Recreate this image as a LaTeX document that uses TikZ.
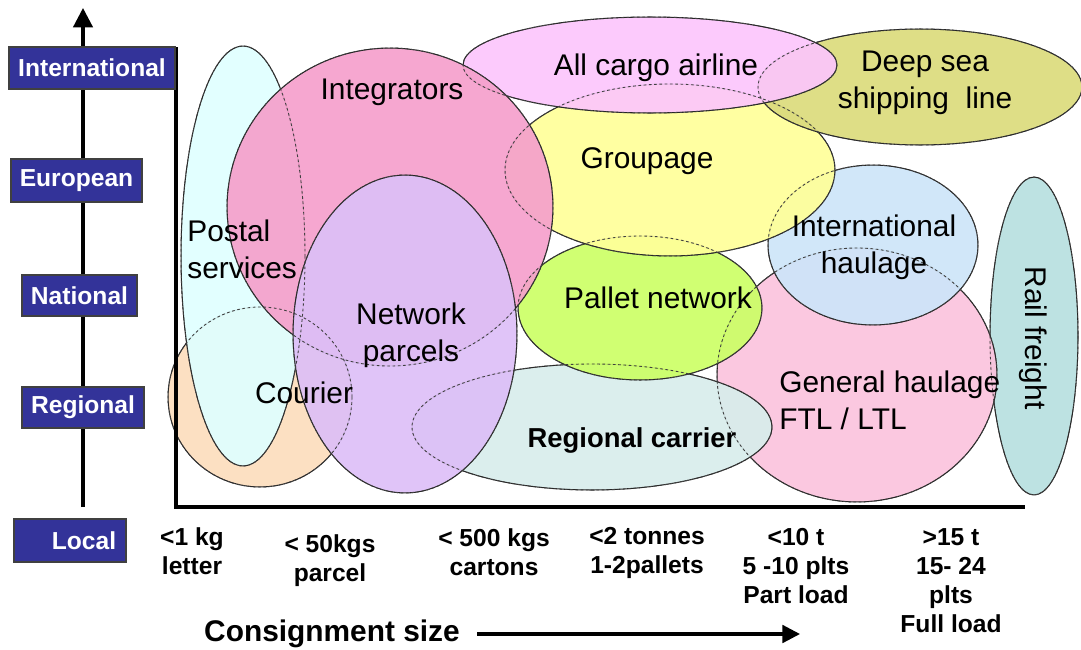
\documentclass[tikz,border=0pt]{standalone}
\usepackage{fontspec}
\setmainfont{Liberation Sans}
\usetikzlibrary{shapes.geometric,arrows.meta}
\definecolor{boxblue}{RGB}{51,51,153}
\definecolor{cRail}{HTML}{B7DFDF}
\definecolor{cGen}{HTML}{FBC3DD}
\definecolor{cIntH}{HTML}{CDE5F9}
\definecolor{cReg}{HTML}{D8EDEC}
\definecolor{cPal}{HTML}{CCFF66}
\definecolor{cGrp}{HTML}{FFFF99}
\definecolor{cSea}{HTML}{DBDB7C}
\definecolor{cAir}{HTML}{FCC6FC}
\definecolor{cCou}{HTML}{FCDDBD}
\definecolor{cPos}{HTML}{DFFFFF}
\definecolor{cInt}{HTML}{F5A0CC}
\definecolor{cNet}{HTML}{DDBFF7}
\tikzset{
  blob/.style n args={3}{ellipse, draw=black!85, line width=0.6pt, fill=#1, fill opacity=0.92,
     minimum width=#2*0.04cm, minimum height=#3*0.04cm, inner sep=0pt},
  hidden/.style={draw=black!75, line width=0.5pt, dash pattern=on 1.5pt off 1.5pt},
  lvl/.style={draw=black!75, line width=0.6pt, fill=boxblue, text=white, inner sep=0pt,
     font=\fontsize{14}{16}\selectfont\bfseries},
  lab/.style={font=\fontsize{17}{21}\selectfont, align=center, inner sep=0pt},
  sizelab/.style={font=\fontsize{14}{16.5}\selectfont\bfseries, align=center, inner sep=0pt, anchor=north},
}
\begin{document}
\begin{tikzpicture}[x=0.02cm, y=-0.02cm]
\useasboundingbox (0,0) rectangle (1081,649);
% vertical level axis
\coordinate (axbot) at (83,507);
\coordinate (axtop) at (83,8);
\draw[line width=1.8pt, -{Triangle[width=11pt,length=11pt]}] (axbot) -- (axtop);
% chart frame
\coordinate (fTop) at (176,47);
\coordinate (fCorner) at (176,507);
\coordinate (fRight) at (1025,507);
% ellipses (drawing order bottom to top)
\node[blob={cRail}{44}{159}] (rail) at (1034,336) {};
\node[blob={cGen}{140}{127}] (gen) at (857,375) {};
\node[blob={cIntH}{105}{80}] (inth) at (873,245) {};
\node[blob={cReg}{180}{63}] (reg) at (592,427) {};
\node[blob={cPal}{122}{72}] (pal) at (640,308) {};
\node[blob={cGrp}{165}{86}] (grp) at (670,170) {};
\node[blob={cSea}{162}{58}] (sea) at (920,87) {};
\node[blob={cAir}{187}{48}] (air) at (650,65) {};
\node[blob={cCou}{92}{90}] (cou) at (260,397) {};
\node[blob={cPos}{62}{210}] (pos) at (243,256) {};
\node[blob={cInt}{163}{159}] (integ) at (390,207) {};
\node[blob={cNet}{112}{159}] (net) at (405,334) {};
% hidden outlines show through as dotted lines
\foreach \e/\rx/\ry in {rail/44/159, gen/140/127, inth/105/80, reg/180/63, pal/122/72,
    grp/165/86, sea/162/58, air/187/48, cou/92/90, pos/62/210, integ/163/159, net/112/159}
  \draw[hidden] (\e.center) ellipse [x radius=\rx, y radius=\ry];
\draw[line width=2.3pt] (fTop) -- (fCorner) -- (fRight);
% ellipse labels
\node[lab, align=left, anchor=west] (tPos) at (187,249) {Postal\\services};
\node[lab] (tInt) at (392,92) {Integrators};
\node[lab] (tAir) at (656,68) {All cargo airline};
\node[lab] (tSea) at (925,83) {Deep sea\\shipping~ line};
\node[lab] (tGrp) at (647,161) {Groupage};
\node[lab] (tIntH) at (874,247) {International\\haulage};
\node[lab] (tPal) at (658,298) {Pallet network};
\node[lab] (tNet) at (411,335) {Network\\parcels};
\node[lab] (tCou) at (304,393) {Courier};
\node[lab, align=left, anchor=west] (tGen) at (779,400) {General haulage\\FTL / LTL};
\node[lab, font=\fontsize{15.6}{19}\selectfont\bfseries] (tReg) at (632,440) {Regional carrier};
\node[lab, rotate=-90] (tRail) at (1033,338) {Rail freight};
% level boxes
\node[lvl, minimum width=166*0.02cm, minimum height=42*0.02cm] (bInt) at (92,68) {International};
\node[lvl, minimum width=131*0.02cm, minimum height=43*0.02cm] (bEur) at (76.5,180.5) {European};
\node[lvl, minimum width=115*0.02cm, minimum height=41*0.02cm] (bNat) at (79.5,295.5) {National};
\node[lvl, minimum width=122*0.02cm, minimum height=41*0.02cm] (bReg) at (83,407.5) {Regional};
\node[lvl, minimum width=112*0.02cm, minimum height=43*0.02cm] (bLoc) at (70,540.5) {\hspace*{16pt}Local};
% size labels
\node[sizelab] (s1) at (192,527) {<1 kg\\letter};
\node[sizelab] (s2) at (330,534) {< 50kgs\\parcel};
\node[sizelab] (s3) at (494,528) {< 500 kgs\\cartons};
\node[sizelab] (s4) at (647,527) {<2 tonnes\\1-2pallets};
\node[sizelab] (s5) at (796,528) {<10 t\\5 -10 plts\\Part load};
\node[sizelab] (s6) at (951,528) {>15 t\\15- 24\\plts\\Full load};
% consignment axis
\node[font=\fontsize{17}{19}\selectfont\bfseries, inner sep=0pt] (cons) at (332,634) {Consignment size};
\coordinate (arrEnd) at (800,634);
\draw[line width=1.8pt, -{Triangle[width=10pt,length=10pt]}] (cons.east) ++(17,0) -- (arrEnd);
\end{tikzpicture}
\end{document}
